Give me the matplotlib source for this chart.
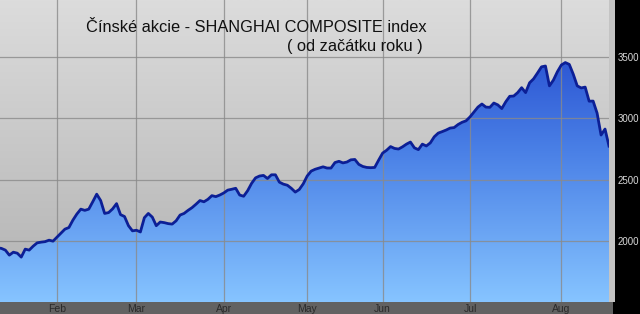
import matplotlib
matplotlib.use('Agg')
import matplotlib.pyplot as plt
import numpy as np
from matplotlib.colors import LinearSegmentedColormap
from matplotlib.patches import Rectangle

plt.rcParams['font.family'] = ['Liberation Sans', 'DejaVu Sans']

# Shanghai Composite daily closes (trading days, Jan -> mid Aug)
closes = [
    1945, 1940, 1926, 1885, 1909, 1901, 1869, 1934, 1926, 1958,
    1985, 1991, 1995, 2007, 1999,
    # Feb
    2032, 2065, 2097, 2110, 2170, 2220, 2260, 2250, 2260, 2320,
    2382, 2330, 2225, 2232, 2262, 2305, 2215, 2200, 2125, 2083,
    # Mar
    2088, 2074, 2190, 2225, 2195, 2125, 2155, 2150, 2142, 2138,
    2165, 2212, 2225, 2250, 2272, 2300, 2330, 2320, 2340, 2370,
    2362, 2375,
    # Apr
    2392, 2415, 2422, 2430, 2375, 2365, 2410, 2470, 2515, 2530,
    2535, 2510, 2540, 2540, 2480, 2464, 2455, 2430, 2399, 2420,
    2466,
    # May
    2530, 2570, 2585, 2595, 2605, 2595, 2595, 2640, 2650, 2637,
    2644, 2662, 2665, 2625, 2608, 2600, 2598, 2600, 2660,
    # Jun
    2717, 2740, 2770, 2755, 2750, 2768, 2790, 2807, 2760, 2745,
    2790, 2775, 2800, 2850, 2880, 2892, 2905, 2921, 2925, 2950,
    2968, 2980,
    # Jul
    3012, 3052, 3092, 3117, 3092, 3090, 3125, 3110, 3080, 3135,
    3180, 3182, 3210, 3250, 3210, 3290, 3322, 3370, 3420, 3427,
    3265, 3312, 3380,
    # Aug
    3435, 3455, 3440, 3360, 3265, 3248, 3255, 3140, 3141, 3043,
    2864, 2913, 2774,
]
month_labels = ['Feb', 'Mar', 'Apr', 'May', 'Jun', 'Jul', 'Aug']
month_starts = [15, 35, 57, 78, 97, 119, 142]
y_ticks = [2000, 2500, 3000, 3500]

days = np.arange(len(closes))
vals = np.array(closes, dtype=float)

W, H = 640, 314
fig = plt.figure(figsize=(W / 100, H / 100), dpi=100)
fig.patch.set_facecolor('black')

# bottom date strip and thin light strip at right of plot
fig.patches.append(Rectangle((0, 0), 613 / W, 12 / H, transform=fig.transFigure,
                             facecolor='#626262', edgecolor='none', zorder=-1))
fig.patches.append(Rectangle((609 / W, 12 / H), 6 / W, 1 - 12 / H, transform=fig.transFigure,
                             facecolor='#c4c4c4', edgecolor='none', zorder=-1))

ax = fig.add_axes([0, 12 / H, 609 / W, 302 / H])
x0, x1 = 0.65, 154
y0, y1 = 1503, 3965
ax.set_xlim(x0, x1)
ax.set_ylim(y0, y1)

# gray background gradient
grey = LinearSegmentedColormap.from_list('grey', ['#b2b2b2', '#dcdcdc'])
grad = np.linspace(0, 1, 256).reshape(-1, 1)
ax.imshow(grad, cmap=grey, origin='lower', aspect='auto',
          extent=[x0, x1, y0, y1], zorder=0)

# blue gradient under the curve
blue = LinearSegmentedColormap.from_list('blue', ['#86c4ff', '#4a80e6', '#1a3cc8'])
img = ax.imshow(grad, cmap=blue, origin='lower', aspect='auto',
                extent=[x0, x1, y0, y1], zorder=1)
poly = ax.fill_between(days, vals, y0, facecolor='none', edgecolor='none')
clip = poly.get_paths()[0]
img.set_clip_path(clip, transform=ax.transData)

# grid
for m in month_starts:
    ax.axvline(m, color='#8a8a8a', lw=0.9, alpha=0.8, zorder=2)
for t in y_ticks:
    ax.axhline(t, color='#8a8a8a', lw=0.9, alpha=0.8, zorder=2)

ax.plot(days, vals, color='#0c1f96', lw=2.0, zorder=3, solid_joinstyle='round')

ax.set_xticks(month_starts)
ax.set_xticklabels(month_labels)
ax.tick_params(axis='x', length=0, pad=1.5, labelsize=7.5, labelcolor='#2a2a2a')
ax.yaxis.tick_right()
ax.set_yticks(y_ticks)
ax.tick_params(axis='y', length=0, pad=6, labelsize=7, labelcolor='#d8d8d8')
for s in ax.spines.values():
    s.set_visible(False)

fig.text(427 / W, 1 - 27 / H, 'Čínské akcie - SHANGHAI COMPOSITE index',
         ha='right', va='center', fontsize=11.8, color='#111111')
fig.text(423 / W, 1 - 47 / H, '( od začátku roku )',
         ha='right', va='center', fontsize=11.8, color='#111111')

fig.savefig('out.png', dpi=100, facecolor=fig.get_facecolor())
